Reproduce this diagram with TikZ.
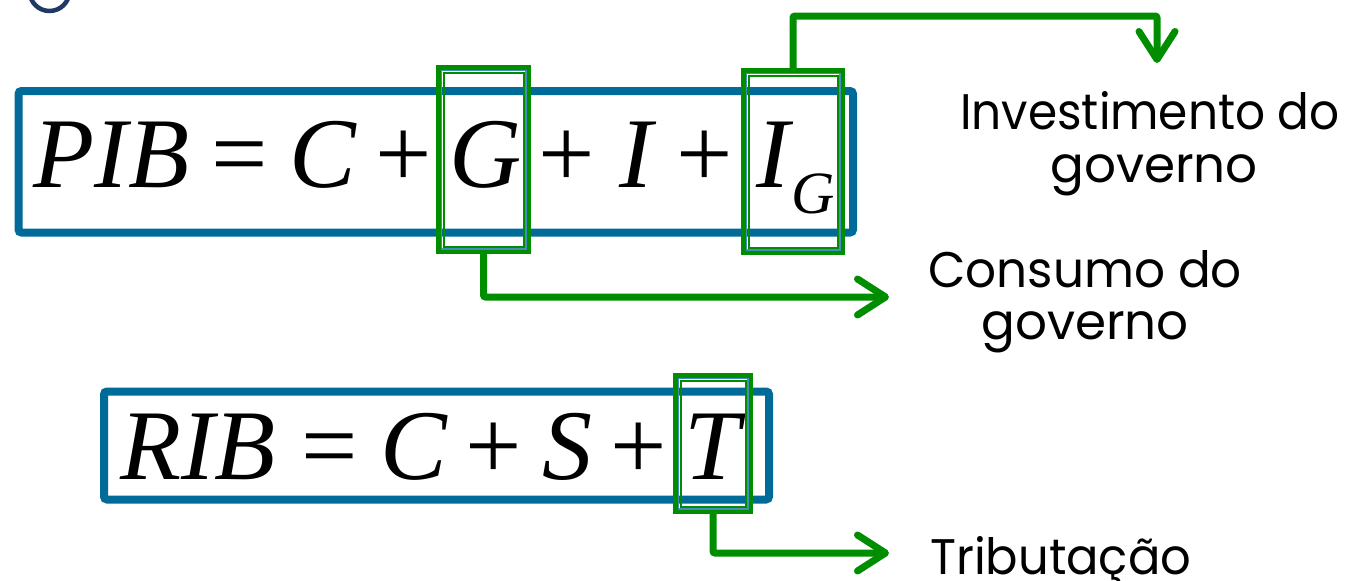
\documentclass[tikz,border=0pt]{standalone}
\usepackage{fontspec}
\setmainfont{Liberation Serif}
\newfontfamily\labfont{Poppins}
\usetikzlibrary{arrows.meta}
\definecolor{boxblue}{RGB}{0,106,153}
\definecolor{arrgreen}{RGB}{0,142,0}
\definecolor{navyc}{RGB}{31,56,100}
\definecolor{glowc}{RGB}{70,140,190}
\tikzset{
  bluebox/.style={draw=boxblue, line width=8pt, rounded corners=3pt, inner sep=0pt, outer sep=0pt},
  greenbox/.style={draw=arrgreen, line width=5pt, inner sep=0pt, outer sep=0pt},
  glowline/.style={draw=glowc, line width=1.2pt},
  thinline/.style={draw=arrgreen, line width=2pt},
  garrow/.style={draw=arrgreen, line width=7pt, rounded corners=2pt, -{Straight Barb[length=28pt,width=36pt,round]}},
  eq/.style={inner sep=0pt, outer sep=0pt, anchor=base, font=\fontsize{100}{110}\selectfont},
  subeq/.style={inner sep=0pt, outer sep=0pt, anchor=base, font=\fontsize{60}{66}\selectfont},
  lab/.style={inner sep=0pt, anchor=base west, font=\labfont\fontsize{50}{60}\selectfont},
  labc/.style={inner sep=0pt, anchor=base, font=\labfont\fontsize{50}{60}\selectfont},
}
\begin{document}
\begin{tikzpicture}[x=1pt,y=-1pt]
\useasboundingbox (0,0) rectangle (1358,581);
% corner circle
\draw[navyc, line width=4.5pt] (49.5,-9) circle[radius=20];
% blue boxes
\node[bluebox, minimum width=834.5pt, minimum height=141.5pt] (pibbox) at (435.75,161.75) {};
\node[bluebox, minimum width=665pt, minimum height=108pt] (ribbox) at (436.5,445.5) {};
% PIB equation
\node[eq] (pib) at (111.5,187) {\itshape PIB};
\node[eq] (eq1) at (240,187) {=};
\node[eq] (c1) at (323,187) {\itshape C};
\node[eq] (pl1) at (403.5,187) {+};
\node[eq] (g1) at (486,187) {\itshape G};
\node[eq] (pl2) at (567,187) {+};
\node[eq] (i1) at (636.5,187) {\itshape I};
\node[eq] (pl3) at (704.5,187) {+};
\node[eq] (i2) at (773.5,187) {\itshape I};
\node[subeq] (gsub) at (813.5,213) {\itshape G};
% RIB equation
\node[eq] (rib) at (198,479) {\itshape RIB};
\node[eq] (eq2) at (330,479) {=};
\node[eq] (c2) at (414,479) {\itshape C};
\node[eq] (pl4) at (494,479) {+};
\node[eq] (s2) at (567,479) {\itshape S};
\node[eq] (pl5) at (639,479) {+};
\node[eq] (t2) at (712.5,479) {\itshape T};
% green boxes
\node[greenbox, minimum width=90pt, minimum height=184pt] (bG) at (483.5,159.5) {};
\node[greenbox, minimum width=99pt, minimum height=182pt] (bIG) at (793,161.5) {};
\node[greenbox, minimum width=75pt, minimum height=136pt] (bT) at (713,443.5) {};
\foreach \b in {bG,bIG,bT}{
  \draw[glowline] ([xshift=2.6pt,yshift=-2.6pt]\b.north west) rectangle ([xshift=-2.6pt,yshift=2.6pt]\b.south east);
  \draw[thinline] ([xshift=5pt,yshift=-5pt]\b.north west) rectangle ([xshift=-5pt,yshift=5pt]\b.south east);
}
% arrow end points
\coordinate (tipI) at (1157,63);
\coordinate (cornI) at (1157,16);
\coordinate (tipG) at (889,297);
\coordinate (tipT) at (889,553);
% connectors
\draw[garrow] (bIG.north) |- (cornI) -- (tipI);
\draw[garrow] (bG.south) |- (tipG);
\draw[garrow] (bT.south) |- (tipT);
% labels
\node[lab] (linv) at (960,129) {\scalebox{0.94}[1]{Investimento do}};
\node[labc] (linv2) at (1154,182) {governo};
\node[lab] (lcon) at (928,287) {\scalebox{0.97}[1]{Consumo do}};
\node[labc] (lcon2) at (1085,339) {governo};
\node[lab] (ltri) at (930,574) {\scalebox{0.96}[1]{Tributação}};
\end{tikzpicture}
\end{document}
